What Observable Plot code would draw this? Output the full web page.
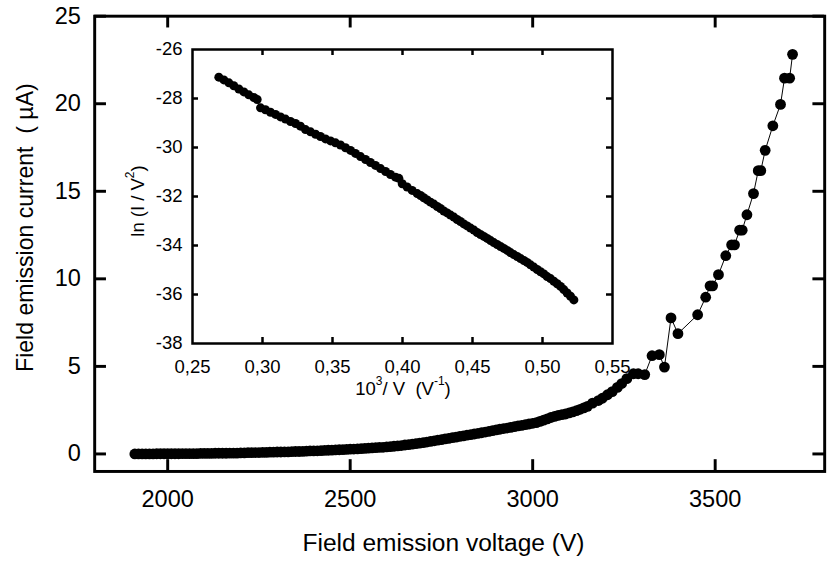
<!DOCTYPE html>
<html><head><meta charset="utf-8">
<script src="https://cdn.jsdelivr.net/npm/d3@7"></script>
<script src="https://cdn.jsdelivr.net/npm/@observablehq/plot@0.6"></script>
<style>
html,body{margin:0;padding:0;background:#fff;overflow:hidden}
#wrap{position:relative;width:834px;height:570px;overflow:hidden;background:#fff}
#main{position:absolute;left:0;top:0}
#inset{position:absolute;left:120px;top:20px}
svg text{font-family:"Liberation Sans",Arial,sans-serif;fill:#000}
</style></head><body>
<div id="wrap"><div id="main"></div><div id="inset"></div></div>
<script>
// ---- main chart data: field emission voltage (V) vs current (µA)
const voltage = [
  1910,1920,1930,1940,1950,1960,1970,1980,1990,2000,
  2010,2020,2030,2040,2050,2060,2070,2080,2090,2100,
  2110,2120,2130,2140,2150,2160,2170,2180,2190,2200,
  2210,2220,2230,2240,2250,2260,2270,2280,2290,2300,
  2310,2320,2330,2340,2350,2360,2370,2380,2390,2400,
  2410,2420,2430,2440,2450,2460,2470,2480,2490,2500,
  2510,2520,2530,2540,2550,2560,2570,2580,2590,2600,
  2610,2620,2630,2640,2650,2660,2670,2680,2690,2700,
  2710,2720,2730,2740,2750,2760,2770,2780,2790,2800,
  2810,2820,2830,2840,2850,2860,2870,2880,2890,2900,
  2910,2920,2930,2940,2950,2960,2970,2980,2990,3000,
  3010,3020,3030,3040,3050,3060,3070,3080,3090,3100,
  3110,3120,3130,3140,3150,
  3164,3180,3191,3205,3218,3232,3244,3258,3276,3289,
  3307,3327,3347,3361,3379,3398,3452,3474,3486,3493,
  3509,3529,3545,3553,3567,3574,3587,3605,3618,3625,
  3637,3658,3679,3690,3704,3712];
const current = [
  0.00,0.00,0.00,0.00,0.00,0.00,0.01,0.01,0.01,0.01,
  0.01,0.01,0.01,0.02,0.02,0.02,0.02,0.02,0.03,0.03,
  0.03,0.03,0.04,0.04,0.04,0.04,0.05,0.05,0.05,0.06,
  0.06,0.07,0.07,0.08,0.08,0.09,0.09,0.10,0.10,0.11,
  0.11,0.12,0.12,0.13,0.14,0.14,0.15,0.16,0.17,0.17,
  0.18,0.19,0.20,0.21,0.22,0.23,0.24,0.25,0.26,0.27,
  0.28,0.29,0.30,0.32,0.33,0.35,0.36,0.37,0.38,0.40,
  0.42,0.44,0.46,0.48,0.51,0.53,0.56,0.59,0.62,0.65,
  0.68,0.72,0.75,0.79,0.82,0.86,0.89,0.93,0.96,1.00,
  1.03,1.07,1.10,1.14,1.17,1.21,1.25,1.29,1.33,1.37,
  1.41,1.45,1.48,1.52,1.56,1.60,1.63,1.67,1.71,1.75,
  1.79,1.86,1.93,2.00,2.08,2.14,2.20,2.24,2.28,2.34,
  2.40,2.47,2.55,2.63,2.72,
  2.90,3.05,3.18,3.38,3.56,3.80,4.02,4.30,4.58,4.58,
  4.53,5.61,5.67,4.96,7.77,6.87,7.95,8.95,9.60,9.60,
  10.24,11.32,11.94,11.94,12.78,12.78,13.66,14.87,16.18,16.18,
  17.34,18.74,19.96,21.46,21.46,22.82];
// ---- inset data: Fowler-Nordheim plot, 10^3/V vs ln(I/V^2)
const invVoltage = [
  0.2688,0.2724,0.2760,0.2795,0.2831,0.2867,0.2902,0.2938,0.2962,0.2986,
  0.3021,0.3057,0.3093,0.3129,0.3164,0.3200,0.3236,0.3271,0.3307,0.3343,
  0.3379,0.3414,0.3450,0.3486,0.3521,0.3557,0.3593,0.3629,0.3664,0.3700,
  0.3736,0.3771,0.3807,0.3843,0.3879,0.3914,0.3950,0.3974,0.3998,0.4033,
  0.4069,0.4105,0.4129,0.4152,0.4176,0.4200,0.4224,0.4248,0.4271,0.4295,
  0.4319,0.4343,0.4367,0.4390,0.4414,0.4438,0.4462,0.4486,0.4510,0.4533,
  0.4557,0.4581,0.4605,0.4629,0.4652,0.4676,0.4700,0.4724,0.4748,0.4771,
  0.4795,0.4819,0.4843,0.4867,0.4890,0.4914,0.4938,0.4962,0.4986,0.5010,
  0.5033,0.5057,0.5081,0.5105,0.5129,0.5152,0.5176,0.5200,0.5224];
const lnIV2 = [
  -27.13,-27.24,-27.36,-27.48,-27.61,-27.73,-27.85,-27.96,-28.04,-28.38,
  -28.46,-28.56,-28.65,-28.75,-28.84,-28.94,-29.02,-29.13,-29.27,-29.36,
  -29.46,-29.55,-29.65,-29.73,-29.81,-29.90,-30.01,-30.12,-30.24,-30.37,
  -30.49,-30.61,-30.73,-30.86,-30.98,-31.10,-31.21,-31.26,-31.48,-31.61,
  -31.75,-31.88,-31.96,-32.05,-32.14,-32.23,-32.31,-32.41,-32.49,-32.59,
  -32.67,-32.76,-32.84,-32.94,-33.02,-33.12,-33.20,-33.29,-33.37,-33.47,
  -33.55,-33.63,-33.71,-33.80,-33.88,-33.96,-34.04,-34.12,-34.20,-34.29,
  -34.37,-34.45,-34.53,-34.61,-34.69,-34.79,-34.88,-34.98,-35.07,-35.16,
  -35.27,-35.35,-35.46,-35.56,-35.67,-35.80,-35.94,-36.07,-36.22];
// ---- ticks and labels
const mainXTicks = [2000,2500,3000,3500];
const mainYTicks = [0,5,10,15,20,25];
const insetXTicks = [0.25,0.30,0.35,0.40,0.45,0.50,0.55];
const insetYTicks = [-38,-36,-34,-32,-30,-28,-26];
const mainXLabel = "Field emission voltage (V)";
const mainYLabel = "Field emission current  ( µA)";

const font = "Liberation Sans, Arial, sans-serif";
const mainData = voltage.map((v, i) => ({v, c: current[i]}));
const insetData = invVoltage.map((x, i) => ({x, y: lnIV2[i]}));

// ---- main plot
const W = 850, H = 570, mL = 96, mR = 10, mT = 16, mB = 90;
const pw = W - mL - mR, ph = H - mT - mB;
const main = Plot.plot({
  width: W, height: H, marginLeft: mL, marginRight: mR, marginTop: mT, marginBottom: mB,
  style: {fontFamily: font, background: "transparent", color: "#000", overflow: "visible"},
  x: {domain: [1800, 3800]},
  y: {domain: [-1, 25]},
  marks: [
    Plot.line(mainData, {x: "v", y: "c", stroke: "#000", strokeWidth: 1}),
    Plot.dot(mainData, {x: "v", y: "c", r: 5.5, fill: "#000", stroke: "none"}),
    Plot.ruleX(mainXTicks, {x: d => d, insetTop: ph - 12, strokeWidth: 3, stroke: "#000"}),
    Plot.ruleX(mainXTicks, {x: d => d, insetBottom: ph - 12, strokeWidth: 3, stroke: "#000"}),
    Plot.ruleY(mainYTicks, {y: d => d, insetRight: pw - 12, strokeWidth: 3, stroke: "#000"}),
    Plot.ruleY(mainYTicks, {y: d => d, insetLeft: pw - 12, strokeWidth: 3, stroke: "#000"}),
    Plot.frame({stroke: "#000", strokeWidth: 3}),
    Plot.axisX({ticks: mainXTicks, tickSize: 0, tickPadding: 19, fontSize: 24, label: null, tickFormat: d => String(d)}),
    Plot.axisY({ticks: mainYTicks, tickSize: 0, tickPadding: 14, fontSize: 24, label: null, tickFormat: d => String(d)})
  ]
});
document.getElementById("main").appendChild(main);
const ms = d3.select(main);
ms.append("text").attr("x", 452).attr("y", 553).attr("text-anchor", "middle")
  .attr("dominant-baseline", "central").attr("font-size", 25).text(mainXLabel);
ms.append("text").attr("transform", "translate(25,232) rotate(-90)").attr("text-anchor", "middle")
  .attr("dominant-baseline", "central").attr("font-size", 23.5).style("white-space", "pre").text(mainYLabel);

// ---- inset plot
const IW = 510, IH = 390, iL = 72, iR = 18, iT = 29, iB = 67;
const ipw = IW - iL - iR, iph = IH - iT - iB;
const comma = d => d.toFixed(2).replace(".", ",");
const inset = Plot.plot({
  width: IW, height: IH, marginLeft: iL, marginRight: iR, marginTop: iT, marginBottom: iB,
  style: {fontFamily: font, background: "transparent", color: "#000", overflow: "visible"},
  x: {domain: [0.25, 0.55]},
  y: {domain: [-38, -26]},
  marks: [
    Plot.line(insetData, {x: "x", y: "y", stroke: "#000", strokeWidth: 1}),
    Plot.dot(insetData, {x: "x", y: "y", r: 4.5, fill: "#000", stroke: "none"}),
    Plot.ruleX(insetXTicks.slice(1, -1), {x: d => d, insetTop: iph - 6, strokeWidth: 2.5, stroke: "#000"}),
    Plot.ruleX(insetXTicks.slice(1, -1), {x: d => d, insetBottom: iph - 6, strokeWidth: 2.5, stroke: "#000"}),
    Plot.ruleY(insetYTicks.slice(1, -1), {y: d => d, insetRight: ipw - 6, strokeWidth: 2.5, stroke: "#000"}),
    Plot.ruleY(insetYTicks.slice(1, -1), {y: d => d, insetLeft: ipw - 6, strokeWidth: 2.5, stroke: "#000"}),
    Plot.frame({stroke: "#000", strokeWidth: 2.5}),
    Plot.axisX({ticks: insetXTicks, tickSize: 0, tickPadding: 16, fontSize: 18.5, label: null, tickFormat: comma}),
    Plot.axisY({ticks: insetYTicks, tickSize: 0, tickPadding: 10, fontSize: 18.5, label: null, tickFormat: d => String(d)})
  ]
});
document.getElementById("inset").appendChild(inset);
const is = d3.select(inset);
const xt = is.append("text").attr("x", 283).attr("y", 368).attr("text-anchor", "middle")
  .attr("dominant-baseline", "central").attr("font-size", 18.5).style("white-space", "pre");
xt.append("tspan").text("10");
xt.append("tspan").attr("baseline-shift", "super").attr("font-size", 12).text("3");
xt.append("tspan").text("/ V  (V");
xt.append("tspan").attr("baseline-shift", "super").attr("font-size", 12).text("-1");
xt.append("tspan").text(")");
const yt = is.append("text").attr("transform", "translate(17,181) rotate(-90)").attr("text-anchor", "middle")
  .attr("dominant-baseline", "central").attr("font-size", 18.5).style("white-space", "pre");
yt.append("tspan").text("ln (I / V");
yt.append("tspan").attr("baseline-shift", "super").attr("font-size", 12).text("2");
yt.append("tspan").text(")");
</script>
</body></html>
